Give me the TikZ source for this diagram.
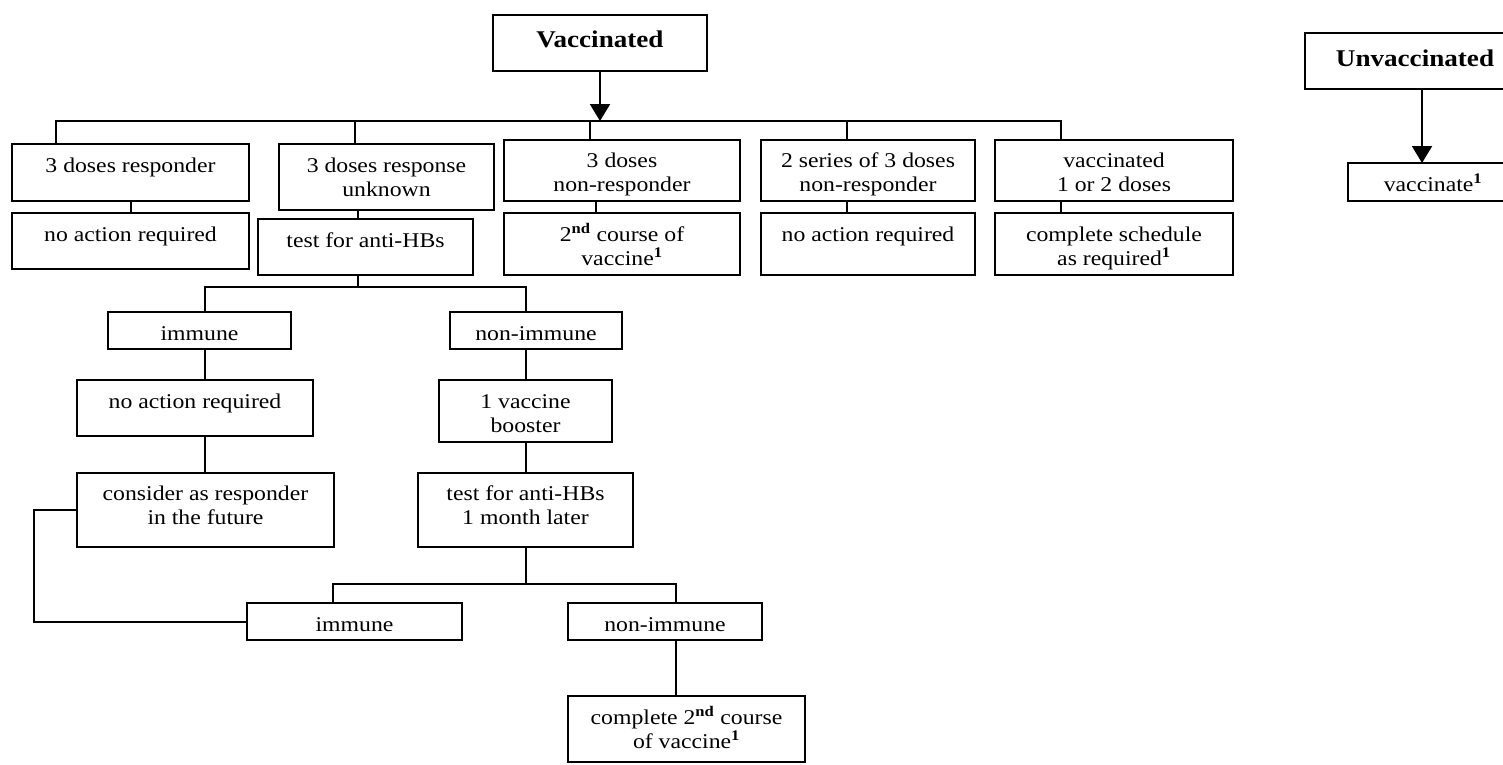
\documentclass[tikz,border=0pt]{standalone}
\usepackage{fontspec}
\setmainfont{Liberation Serif}[FakeStretch=1.13]
\usetikzlibrary{arrows.meta}
\newcommand\bxsup[1]{\textsuperscript{\bfseries #1}}
\newcommand\mkbox[7][28]{%
  \node[boxshape, minimum width={#5-#3}, minimum height={#6-#4}] (#2) at ({(#3+#5)/2},{(#4+#6)/2}) {};
  \node[boxtext] (#2-t) at ({(#3+#5)/2},{#4+#1}) {\parbox[t]{400pt}{\centering #7}};
}
\newcommand\ttl[1]{{\fontsize{24}{28}\selectfont\bfseries #1}}
\tikzset{
  boxshape/.style={draw, rectangle, inner sep=0pt, outer sep=0pt},
  boxtext/.style={anchor=base, inner sep=0pt, font=\fontsize{21}{24}\selectfont},
  arr/.style={-{Triangle[width=20pt,length=17pt]}},
}
\begin{document}
\begin{tikzpicture}[x=1pt,y=-1pt,line width=2pt]
\useasboundingbox (0,0) rectangle (1503,764);
\clip (0,0) rectangle (1503,764);
% top level
\mkbox[32]{vac}{493}{15}{707}{71}{\ttl{Vaccinated}}
\mkbox[33]{unv}{1305}{33}{1525}{89}{\ttl{Unvaccinated}}
\mkbox{vcn}{1348}{163}{1518}{201}{vaccinate\bxsup{1}}
% first row
\mkbox{r1}{12}{144}{249}{201}{3 doses responder}
\mkbox{r2}{279}{144}{494}{210}{3 doses response\\unknown}
\mkbox[27]{r3}{504}{140}{740}{201}{3 doses\\non-responder}
\mkbox[27]{r4}{761}{140}{975}{201}{2 series of 3 doses\\non-responder}
\mkbox[27]{r5}{995}{140}{1233}{201}{vaccinated\\1 or 2 doses}
% second row
\mkbox{s1}{12}{213}{249}{269}{no action required}
\mkbox{s2}{258}{219}{473}{275}{test for anti-HBs}
\mkbox{s3}{504}{213}{740}{275}{2\bxsup{nd} course of\\vaccine\bxsup{1}}
\mkbox{s4}{761}{213}{975}{275}{no action required}
\mkbox{s5}{995}{213}{1233}{275}{complete schedule\\as required\bxsup{1}}
% left subtree
\mkbox{im1}{108}{312}{291}{349}{immune}
\mkbox{na2}{77}{380}{313}{436}{no action required}
\mkbox[27]{cons}{77}{473}{334}{547}{consider as responder\\in the future}
\mkbox{ni1}{450}{312}{622}{349}{non-immune}
\mkbox{bst}{439}{380}{612}{442}{1 vaccine\\booster}
\mkbox[27]{t2}{418}{473}{633}{547}{test for anti-HBs\\1 month later}
\mkbox{im2}{247}{603}{462}{640}{immune}
\mkbox{ni2}{568}{603}{762}{640}{non-immune}
\mkbox{cmp}{568}{696}{805}{762}{complete 2\bxsup{nd} course\\of vaccine\bxsup{1}}
% top bus
\coordinate (c1) at (56,121);
\coordinate (c2) at (355,121);
\coordinate (c3) at (590,121);
\coordinate (c4) at (847,121);
\coordinate (c5) at (1061,121);
\draw[arr] (vac.south) -- (vac.south |- c1);
\draw (c1 |- r1.north) -- (c1) -- (c5) -- (c5 |- r5.north);
\draw (c2) -- (c2 |- r2.north);
\draw (c3) -- (c3 |- r3.north);
\draw (c4) -- (c4 |- r4.north);
% row links
\coordinate (d2) at (358,0);
\coordinate (d3) at (596,0);
\coordinate (d4) at (847,0);
\coordinate (d5) at (1061,0);
\draw (r1.south) -- (s1.north);
\draw (d2 |- r2.south) -- (d2 |- s2.north);
\draw (d3 |- r3.south) -- (d3 |- s3.north);
\draw (d4 |- r4.south) -- (d4 |- s4.north);
\draw (d5 |- r5.south) -- (d5 |- s5.north);
% test subtree
\coordinate (e0) at (358,287);
\coordinate (e1) at (205,287);
\coordinate (e2) at (526,287);
\draw (e0 |- s2.south) -- (e0);
\draw (e1 |- im1.north) -- (e1) -- (e2) -- (e2 |- ni1.north);
\draw (e1 |- im1.south) -- (e1 |- na2.north);
\draw (e1 |- na2.south) -- (e1 |- cons.north);
\draw (e2 |- ni1.south) -- (e2 |- bst.north);
\draw (e2 |- bst.south) -- (e2 |- t2.north);
\coordinate (f0) at (526,584);
\coordinate (f1) at (333,584);
\coordinate (f2) at (676,584);
\draw (f0 |- t2.south) -- (f0);
\draw (f1 |- im2.north) -- (f1) -- (f2) -- (f2 |- ni2.north);
\draw (f2 |- ni2.south) -- (f2 |- cmp.north);
\coordinate (lp) at (34,0);
\draw (cons.west) -- (cons.west -| lp) -- (lp |- im2.west) -- (im2.west);
% unvaccinated
\coordinate (g) at (1422,0);
\draw[arr] (g |- unv.south) -- (g |- vcn.north);
\end{tikzpicture}
\end{document}
